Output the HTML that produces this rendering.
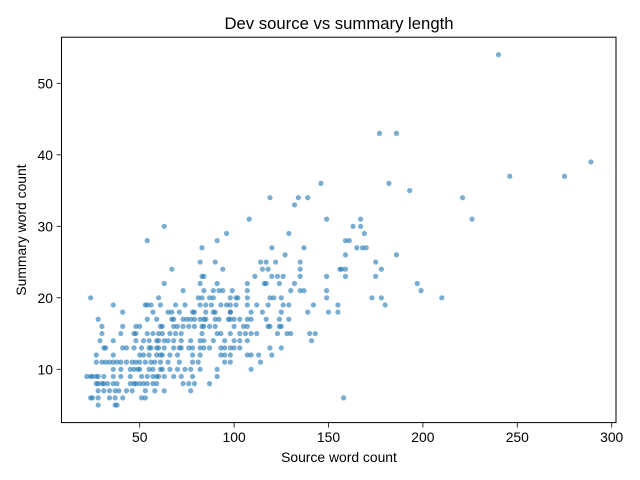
<!DOCTYPE html>
<html><head><meta charset="utf-8"><style>
html,body{margin:0;padding:0;background:#fff;}
svg{display:block;font-family:"Liberation Sans","DejaVu Sans",sans-serif;}
</style></head><body>
<svg id="chart" width="640" height="480" viewBox="0 0 640 480" xmlns="http://www.w3.org/2000/svg">
<rect width="640" height="480" fill="#fff"/>
<text x="339" y="29" text-anchor="middle" font-size="16.7" fill="#000">Dev source vs summary length</text>
<g id="points"></g>
<g id="axes"></g>
<rect x="61.5" y="37.2" width="554.5" height="385.4" fill="none" stroke="#000" stroke-width="1"/>
<text x="339" y="462" text-anchor="middle" font-size="13.9" fill="#000">Source word count</text>
<text x="0" y="0" transform="translate(26,230) rotate(-90)" text-anchor="middle" font-size="13.9" fill="#000">Summary word count</text>
</svg>
<script>
const rowLevels = [54,43,39,37,36,35,34,33,31,30,29,28,27,26,25,24,23,22,21,20,19,18,17,16,15,14,13,12,11,10,9,8,7,6,5];
const rowSources = [
[240],
[177,186],
[289],
[246,275],
[146,182],
[193],
[119,134,139,221],
[132],
[149,167,108,226],
[163,167,63],
[129,169,96],
[54,91,159,161],
[83,120,137,165,168,170],
[127,159,186],
[82,90,114,117,122,135,175],
[67,94,115,118,135,156,157,159,178],
[83,84,111,120,123,126,135,149,159,175],
[63,82,91,107,116,117,124,132,197],
[73,84,89,92,94,99,107,130,135,137,149,199],
[24,60,81,83,87,89,98,101,102,107,119,121,125,149,173,178,210],
[36,53,54,56,61,69,74,82,85,88,93,96,98,101,107,112,118,126,129,142,155,180],
[41,57,65,67,71,78,79,85,89,90,98,98,109,115,125,139,150,155],
[28,54,59,67,68,73,75,77,79,82,84,85,90,92,97,98,100,103,107,109,117,124,129],
[30,41,48,50,61,62,68,70,73,76,79,83,84,87,90,100,105,107,118,119,124,125],
[30,40,47,48,54,57,60,62,66,69,72,83,91,93,98,103,106,109,112,123,128,130,140,143],
[29,36,48,52,55,59,60,63,65,68,72,77,82,84,89,95,100,103,107,141],
[31,32,41,43,47,51,55,56,59,60,63,68,71,72,76,78,82,84,87,93,95,98,100,103,119,125],
[27,36,50,52,55,59,61,62,66,70,78,82,93,95,98,107,109,113,120],
[27,30,32,34,36,38,40,43,46,48,50,53,56,58,61,65,71,78,81,95,98,114],
[36,40,45,47,49,50,55,57,61,62,66,70,74,77,82,91,109],
[22,24,25,27,28,31,36,40,45,51,54,57,59,60,63,68,72,78,91],
[27,28,30,31,33,36,38,45,47,48,50,52,54,57,59,73,76,79,87],
[28,31,34,37,39,43,46,53,58,63,77],
[24,25,28,34,37,41,51,53,158],
[28,37,38]
];
const xTickLabels = ["50","100","150","200","250","300"];
const yTickLabels = ["10","20","30","40","50"];

// flatten into paired series
const srcWords = [];
const sumWords = [];
rowLevels.forEach(function(lv, i){ rowSources[i].forEach(function(s){ srcWords.push(s); sumWords.push(lv); }); });

const X0 = 45.3, XK = 1.888, Y0 = 440.8, YK = 7.15;
function xScale(v){ return X0 + XK * v; }
function yScale(v){ return Y0 - YK * v; }
const NS = "http://www.w3.org/2000/svg";
const gp = document.getElementById('points');
for (let i = 0; i < srcWords.length; i++) {
  const c = document.createElementNS(NS, 'circle');
  c.setAttribute('cx', xScale(srcWords[i]).toFixed(2));
  c.setAttribute('cy', yScale(sumWords[i]).toFixed(2));
  c.setAttribute('r', '2.6');
  c.setAttribute('fill', '#1f77b4');
  c.setAttribute('fill-opacity', '0.6');
  
  
  gp.appendChild(c);
}
const ga = document.getElementById('axes');
xTickLabels.forEach(function(t){
  const v = parseFloat(t), x = xScale(v);
  const l = document.createElementNS(NS, 'line');
  l.setAttribute('x1', x); l.setAttribute('x2', x); l.setAttribute('y1', 422.6); l.setAttribute('y2', 427.5);
  l.setAttribute('stroke', '#000'); l.setAttribute('stroke-width', '0.8');
  
  
  ga.appendChild(l);
  const tx = document.createElementNS(NS, 'text');
  tx.setAttribute('x', x); tx.setAttribute('y', 442); tx.setAttribute('text-anchor', 'middle');
  tx.setAttribute('font-size', '13.9'); tx.textContent = t;
  
  
  ga.appendChild(tx);
});
yTickLabels.forEach(function(t){
  const v = parseFloat(t), y = yScale(v);
  const l = document.createElementNS(NS, 'line');
  l.setAttribute('x1', 56.6); l.setAttribute('x2', 61.5); l.setAttribute('y1', y); l.setAttribute('y2', y);
  l.setAttribute('stroke', '#000'); l.setAttribute('stroke-width', '0.8');
  
  
  ga.appendChild(l);
  const tx = document.createElementNS(NS, 'text');
  tx.setAttribute('x', 53); tx.setAttribute('y', y + 5); tx.setAttribute('text-anchor', 'end');
  tx.setAttribute('font-size', '13.9'); tx.textContent = t;
  
  
  ga.appendChild(tx);
});
</script>
</body></html>
